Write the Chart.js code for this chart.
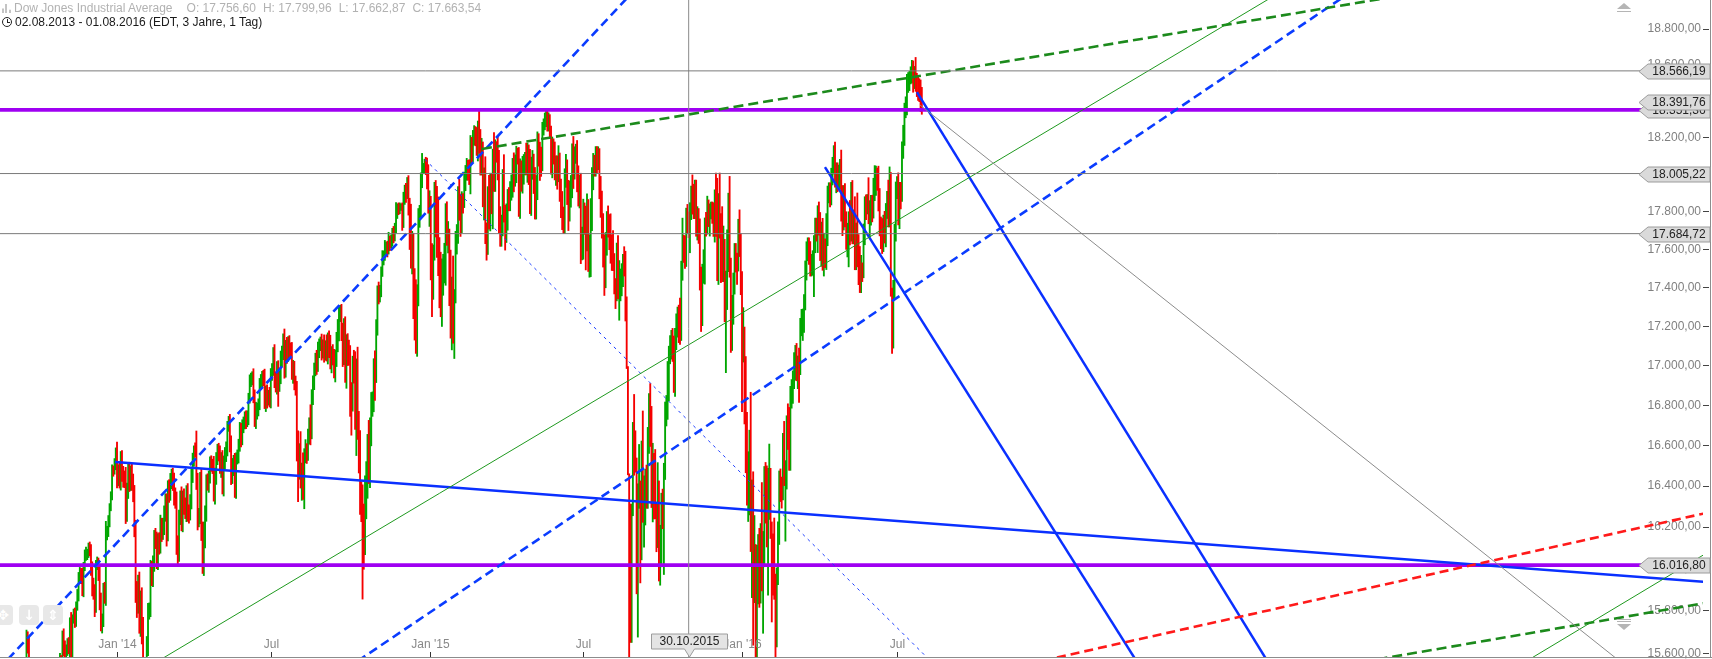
<!DOCTYPE html>
<html>
<head>
<meta charset="utf-8">
<script src="https://cdn.jsdelivr.net/npm/chart.js@4.4.1/dist/chart.umd.min.js"></script>
<style>
  body { margin: 0; background: #fff; overflow: hidden; }
  #wrap { position: relative; width: 1712px; height: 659px; }
  .hdr { position: absolute; left: 0; font: 12px "Liberation Sans", Arial, sans-serif; white-space: nowrap; line-height: 14px; }
  .hdr span.t { margin-left: 7px; }
  .ico-bars { position: absolute; left: 2px; top: 3px; width: 9px; height: 9px;
    background: linear-gradient(to right, #c4c4c4 0 2px, transparent 2px 3px, #c4c4c4 3px 5px, transparent 5px 7px, #c4c4c4 7px 9px);
    clip-path: polygon(0 50%, 22% 50%, 22% 0, 56% 0, 56% 30%, 78% 30%, 78% 65%, 100% 65%, 100% 100%, 0 100%); }
  .ico-clock { position: absolute; left: 2px; top: 2px; width: 8px; height: 8px; border: 1.4px solid #222; border-radius: 50%; }
  .ico-clock:after { content: ""; position: absolute; left: 3.5px; top: 1px; width: 2px; height: 3px; border-left: 1.3px solid #222; border-bottom: 1.3px solid #222; }
  .nav { position: absolute; top: 605px; width: 20px; height: 20px; border-radius: 4px; background: #e8e8e8; color: #fff;
    font: bold 14px "DejaVu Sans", sans-serif; text-align: center; line-height: 20px; }
  .tri-up { position: absolute; left: 1617px; top: 3px; width: 0; height: 0; border-left: 7px solid transparent; border-right: 7px solid transparent; border-bottom: 6px solid #b5b5b5; }
  .tri-dn { position: absolute; left: 1617px; top: 624px; width: 0; height: 0; border-left: 7px solid transparent; border-right: 7px solid transparent; border-top: 6px solid #b5b5b5; }
  .bar-ln { position: absolute; left: 1617px; width: 14px; height: 1px; background: #b5b5b5; }
</style>
</head>
<body>
<div id="wrap">
  <canvas id="chart" width="1712" height="659"></canvas>
  <div class="hdr" style="top:1px;color:#b2b2b2">
    <span class="ico-bars"></span>
    <span style="margin-left:14px">Dow Jones Industrial Average</span><span class="t" style="margin-left:14px">O: 17.756,60</span><span class="t">H: 17.799,96</span><span class="t">L: 17.662,87</span><span class="t">C: 17.663,54</span>
  </div>
  <div class="hdr" style="top:15px;color:#1a1a1a">
    <span class="ico-clock"></span>
    <span style="margin-left:15px">02.08.2013 - 01.08.2016 (EDT, 3 Jahre, 1 Tag)</span>
  </div>
  <div class="nav" style="left:-7px">&#x2725;</div>
  <div class="nav" style="left:19px">&#x2193;</div>
  <div class="nav" style="left:43px">&#x21D5;</div>
  <div class="tri-up"></div><div class="bar-ln" style="top:11px"></div>
  <div class="bar-ln" style="top:619px"></div><div class="bar-ln" style="top:621px"></div><div class="tri-dn"></div>
</div>
<script>
// daily closes, one row per month, 02.08.2013 .. 01.08.2016 (index = trading day)
const firstOpen = 15628;
const closes = [
  15658,15612,15518,15470,15498,15425,15419,15451,15337,15112,15081,15010,15002,14897,14963,15010,14946,14776,14825,14840,14810,
  14834,14930,14938,14922,15063,15191,15326,15300,15376,15494,15529,15676,15636,15451,15401,15334,15273,15328,15258,15130,
  15191,15133,14997,15073,14936,14776,14803,15127,15237,15301,15168,15374,15372,15399,15392,15467,15413,15509,15570,15568,15680,15618,15546,
  15615,15639,15618,15747,15594,15761,15783,15751,15822,15876,15962,15976,15968,15901,16010,16065,16073,16073,16098,16086,
  16008,15915,15889,15822,16020,16026,15973,15844,15740,15755,15885,15875,16168,16179,16221,16294,16357,16479,16478,16505,16577,
  16441,16470,16425,16530,16462,16444,16437,16257,16374,16482,16418,16459,16414,16373,16198,15879,15838,15929,15739,15849,15699,
  15373,15445,15441,15629,15795,15802,15995,15964,16027,16154,16131,16040,16133,16104,16208,16180,16198,16273,16322,
  16168,16396,16360,16422,16453,16418,16351,16341,16108,16065,16247,16336,16222,16331,16302,16276,16367,16268,16264,16323,16457,
  16532,16573,16572,16413,16246,16256,16437,16170,16027,16174,16263,16425,16409,16449,16514,16502,16501,16361,16448,16535,16581,
  16558,16512,16530,16401,16518,16550,16583,16695,16715,16613,16447,16491,16511,16374,16533,16543,16606,16675,16633,16698,16717,
  16743,16723,16738,16836,16924,16943,16945,16843,16734,16776,16782,16808,16906,16921,16947,16938,16819,16868,16846,16851,16827,
  16956,16976,17068,16924,16907,16986,16915,16944,17055,17061,17138,16977,17100,17052,17114,17087,17084,16961,16983,16913,16881,16563,
  16493,16569,16430,16443,16369,16554,16569,16561,16652,16713,16663,16839,16919,16979,17039,17001,17076,17107,17122,17079,17098,
  17068,17078,17069,17138,17111,17014,17068,17049,16988,17031,17131,17157,17266,17280,17173,17056,17211,16946,17114,17071,17043,
  16805,16801,17009,16992,16720,16995,16660,16544,16321,16316,16142,16117,16380,16400,16615,16462,16678,16805,16818,17006,16975,17196,17391,
  17367,17384,17485,17555,17574,17614,17615,17612,17652,17635,17648,17688,17686,17720,17810,17818,17815,17828,17828,
  17777,17880,17913,17901,17959,17853,17801,17533,17597,17281,17181,17068,17357,17778,17805,17959,18024,18030,18053,18039,17983,17823,
  17833,17502,17371,17585,17908,17737,17640,17614,17427,17321,17512,17516,17554,17814,17673,17679,17388,17191,17417,17165,
  17362,17667,17673,17885,17825,17730,17868,17863,17973,18019,18047,18030,17986,18141,18117,18209,18225,18215,18133,
  18289,18204,18097,18136,17857,17996,17662,17635,17895,17749,17977,17850,18077,17959,18128,18116,18011,17718,17678,17713,17977,17776,
  17698,17763,17880,17876,17902,17958,18057,17977,18036,18113,18106,17826,18034,17950,18038,18058,18080,18038,18110,18036,17841,
  18024,18070,17928,17842,17925,18191,18105,18068,18060,18253,18272,18299,18312,18285,18285,18232,18042,18163,18126,18011,
  18041,18011,18076,17906,17849,17766,17765,18001,18039,17899,17791,17905,17935,18116,18015,18120,18144,17967,17891,17947,17597,17620,
  17758,17731,17684,17776,17516,17549,17761,17978,18054,18051,18121,18086,18100,17920,17851,17731,17569,17441,17631,17752,17746,17690,
  17599,17551,17540,17419,17373,17615,17403,17403,17409,17477,17546,17512,17349,16991,16460,15871,15666,16285,16655,16643,16528,
  15916,16351,16375,16102,16492,16253,16330,16433,16371,16600,16740,16675,16385,16511,16330,16280,16201,16315,16001,16049,16285,
  16272,16472,16777,16790,16912,17050,17084,17131,17082,16925,17142,17216,17231,17218,17169,17490,17647,17623,17582,17780,17756,17664,
  17829,17918,17868,17864,17910,17731,17758,17703,17449,17245,17484,17490,17738,17732,17824,17792,17813,17813,17799,17720,
  17888,17730,17478,17848,17731,17568,17493,17575,17265,17368,17525,17750,17496,17128,17252,17418,17603,17553,17528,17721,17604,17425,
  17149,17158,16907,16515,16347,16399,16516,16152,16380,15988,16016,15766,15882,16094,15886,16167,15944,16069,16466,
  16449,16154,16337,16417,16205,16027,16014,15914,15660,15974,16196,16454,16414,16392,16620,16432,16485,16698,16640,16517,
  16866,16900,16944,17007,17074,16964,17000,16995,17213,17229,17251,17326,17481,17602,17623,17583,17502,17516,17535,17634,17717,17685,
  17793,17737,17603,17716,17542,17577,17556,17721,17908,17926,17897,18004,18053,18096,17982,18003,17978,17991,18042,17831,17774,
  17891,17751,17652,17660,17741,17705,17928,17711,17721,17535,17711,17530,17527,17436,17501,17493,17706,17851,17829,17873,17787,
  17790,17839,17807,17920,17938,18005,17985,17865,17733,17675,17640,17733,17675,17805,17830,17780,18011,17400,17140,17410,17695,17930,
  17949,17841,17918,17896,18147,18227,18348,18373,18507,18517,18534,18559,18595,18518,18571,18493,18474,18473,18456,18432,
  18404
];
// how far each day's high reaches above max(open, close)
const highPad = [
  30,25,40,20,35,25,20,30,15,20,35,25,40,30,45,30,25,30,40,35,25,
  20,40,30,25,20,15,30,35,20,25,30,33,25,40,30,25,35,20,40,30,
  30,45,25,20,35,40,60,15,30,25,35,20,30,25,35,20,30,25,30,20,25,35,40,
  25,30,35,20,45,20,25,30,20,25,20,30,25,35,20,25,30,20,25,30,
  30,25,40,35,20,30,25,35,40,30,45,50,60,25,35,20,15,25,20,30,11,
  40,35,50,40,45,35,30,55,40,30,35,40,50,45,30,35,60,40,55,45,60,
  70,60,80,50,40,35,45,40,35,30,40,45,35,40,50,35,45,30,40,
  40,30,35,40,30,35,45,40,30,50,35,40,60,45,55,40,35,45,40,35,30,
  30,25,40,100,50,35,30,45,55,50,40,30,35,25,30,35,30,45,40,30,25,
  30,40,35,45,30,40,35,25,30,40,35,45,40,50,30,35,25,40,35,30,25,
  25,30,35,25,30,20,25,40,35,40,30,25,30,35,25,30,45,30,35,25,40,
  30,35,25,40,45,35,40,30,20,40,25,50,30,45,35,40,30,35,45,40,35,40,
  110,40,100,70,120,30,60,40,30,25,90,40,30,35,25,40,45,30,25,40,35,
  60,50,80,30,40,45,30,40,35,50,40,80,40,30,35,45,30,40,45,50,60,
  60,110,40,70,80,40,100,110,130,100,90,170,70,120,40,110,60,60,50,30,70,40,20,
  40,30,25,40,20,35,25,30,40,20,30,25,35,20,40,25,30,20,15,
  20,25,30,40,25,35,20,40,100,90,220,262,60,40,30,50,90,30,30,40,50,70,
  80,50,130,40,50,60,200,240,50,160,40,60,80,30,40,70,30,210,40,150,
  30,30,60,50,90,70,40,30,40,30,40,30,50,70,60,30,40,35,40,
  1,60,40,60,40,40,100,80,40,100,30,30,60,150,60,50,90,120,110,70,50,130,
  60,80,40,50,60,40,30,60,70,40,30,40,50,40,60,50,40,90,60,50,100,
  70,60,40,110,70,40,30,70,80,30,30,35,39,40,50,40,30,40,30,50,
  60,60,80,40,70,60,60,30,70,40,70,60,60,50,90,30,20,40,80,50,60,100,
  110,90,100,120,90,130,110,60,60,50,30,30,50,40,70,60,60,110,60,50,80,40,
  100,80,150,40,30,20,60,140,90,50,30,70,80,5,5,0,441,27,60,200,30,
  10,60,230,50,130,280,120,50,70,90,120,170,120,100,50,250,40,200,110,160,80,
  100,40,40,60,110,50,70,50,60,70,50,50,70,80,130,50,120,30,50,40,60,44,
  20,20,80,80,60,60,70,60,60,60,40,110,30,60,60,40,30,40,40,50,
  30,120,250,50,160,60,260,150,80,120,180,150,240,60,110,60,30,30,30,40,90,80,
  60,140,40,140,250,170,160,350,50,90,240,100,230,70,100,50,250,110,30,
  50,50,150,190,70,20,140,230,60,30,30,20,30,30,40,100,40,50,110,150,
  30,30,30,60,30,40,50,90,30,60,40,40,60,40,40,40,60,60,60,40,50,50,
  40,60,60,30,50,110,80,70,30,30,30,30,40,60,80,60,60,60,40,90,110,
  50,60,50,80,60,120,30,40,90,160,30,190,150,90,70,30,30,30,40,20,110,
  70,50,50,60,110,40,30,60,60,40,90,50,70,40,80,140,30,0,0,30,40,30,
  40,60,40,40,30,40,40,50,40,40,30,30,30,27,20,70,60,60,50,60,
  43
];
// how far each day's low reaches below min(open, close)
const lowPad = [
  25,30,20,35,25,30,25,20,30,25,30,20,25,35,20,30,25,20,30,25,30,
  40,20,25,30,15,20,25,30,25,20,30,25,35,20,25,30,20,35,25,40,
  25,50,40,30,45,50,60,30,20,35,25,40,30,20,35,25,45,20,35,30,25,30,25,
  30,25,20,35,25,40,20,30,25,20,30,25,40,30,35,20,25,30,20,25,
  40,45,35,50,30,25,30,40,35,45,30,40,50,30,25,20,15,25,30,20,25,
  50,40,35,45,40,50,45,40,30,35,45,40,35,50,45,40,70,50,45,60,55,
  17,60,101,50,40,35,30,45,50,40,35,40,45,35,30,50,40,35,45,
  60,35,40,30,35,40,45,50,40,45,30,35,40,45,40,35,50,40,45,30,35,
  40,35,30,30,60,45,40,35,50,60,75,35,30,40,35,30,40,35,50,40,30,
  35,50,70,40,50,35,30,35,25,45,40,35,40,30,35,25,30,35,40,30,35,
  35,40,30,35,25,30,40,30,40,50,45,35,30,25,30,40,35,50,60,45,35,
  40,30,25,35,40,50,120,45,35,60,30,40,35,40,30,45,40,30,50,35,30,40,
  170,60,40,100,35,80,40,50,35,45,60,30,35,40,30,45,30,35,30,50,40,
  50,40,45,60,70,30,50,45,50,70,35,60,30,40,45,60,50,30,60,70,40,
  60,150,30,80,40,170,30,80,60,90,287,120,50,140,60,50,70,80,60,50,150,60,40,
  50,40,30,25,35,30,40,50,35,40,25,30,50,40,30,45,30,25,20,
  75,60,40,50,30,70,200,30,60,40,50,5,20,50,60,40,30,20,20,40,60,30,
  100,60,120,30,40,70,80,150,130,70,120,150,90,140,50,90,80,50,110,50,
  128,40,90,40,70,60,40,70,40,60,50,60,40,90,60,50,50,60,30,
  60,90,100,100,30,100,30,90,60,40,50,60,140,50,50,50,40,30,60,60,40,30,
  100,60,60,70,70,40,80,70,40,80,50,50,60,40,50,90,60,40,80,90,50,
  60,50,30,80,80,60,60,100,70,40,40,30,40,50,50,30,40,60,70,40,
  70,90,50,50,80,60,80,80,70,60,90,40,80,60,90,40,60,60,60,70,70,50,
  70,50,190,90,30,60,90,60,60,60,60,80,60,50,80,70,60,80,40,60,80,90,
  70,60,50,50,80,40,60,170,70,50,70,50,120,5,5,501,15,15,30,190,60,
  36,240,60,170,60,30,150,120,80,80,40,80,90,160,90,40,120,100,60,80,40,
  80,300,40,80,60,90,40,50,60,60,80,60,70,100,60,40,50,90,80,70,70,1,
  80,70,80,100,100,60,80,70,60,70,40,60,70,60,50,70,120,50,60,50,
  80,60,40,60,70,140,60,60,40,300,80,40,40,60,50,40,50,70,110,40,40,60,
  380,130,200,50,40,120,140,70,290,350,150,316,210,50,70,50,50,250,60,
  230,50,280,100,60,280,140,60,157,30,50,80,90,100,60,30,300,100,60,40,
  40,80,90,60,80,40,80,180,40,60,100,80,40,40,60,60,40,40,50,180,50,40,
  100,60,60,90,50,80,50,60,100,60,70,60,60,50,50,80,70,60,70,80,100,
  70,30,50,90,150,80,60,80,80,40,40,20,110,60,60,60,40,80,70,40,50,
  120,60,60,40,60,50,70,60,60,70,60,50,40,60,40,60,60,43,77,50,60,50,
  60,110,130,80,40,60,70,40,50,60,60,40,60,70,50,40,50,70,60,90,
  77
];

const xTickIdx = [105, 229, 357, 481, 609, 734];
const xTickLabels = ["Jan '14", 'Jul', "Jan '15", 'Jul', "Jan '16", 'Jul'];
const yTicks = [15600,15800,16000,16200,16400,16600,16800,17000,17200,17400,17600,17800,18000,18200,18400,18600,18800];

// drawn lines: [trading-day index, price] end points
const blueDash1 = [[-13.8, 15384], [529.9, 19077]];
const blueDash2 = [[252.4, 15384], [1114.3, 19077]];
const greenThin1 = [[85.4, 15384], [1059.4, 19077]];
const greenThin2 = [[1189.3, 15384], [1592.5, 16827]];
const greenDash1 = [[399.3, 18138], [1215.4, 19077]];
const greenDash2 = [[930.7, 15384], [1462.1, 15914]];
const redDash = [[708.7, 15384], [1462.1, 16370]];
const blueFlat = [[103.4, 16518], [1462.1, 15903]];
const blueSteep1 = [[675.9, 18040], [946.9, 15384]];
const blueSteep2 = [[750.1, 18449], [1052.0, 15384]];
const blueDotted = [[353.4, 18081], [792.8, 15384]];
const grayDiag = [[752.5, 18378], [1356.2, 15384]];
const grayLevels = [18566.19, 18005.22, 17684.72];
const purpleLevels = [18351.36, 16016.80];
const tagValues = [18566.19, 18351.36, 18391.76, 18005.22, 17684.72, 16016.80];
const cursorIdx = 566;
const cursorLabel = '30.10.2015';

const FONT = '"Liberation Sans", Arial, sans-serif';
Chart.defaults.font.family = FONT;

function fmt(v) {
  let [i, d] = v.toFixed(2).split('.');
  return i.replace(/\B(?=(\d{3})+(?!\d))/g, '.') + ',' + d;
}

// OHLC bars as floating bars [low, high], split into up and down days
const upBars = [];
const downBars = [];
let prev = firstOpen;
closes.forEach(function (c, i) {
  const open = prev;
  const bar = { x: i, y: [Math.min(open, c) - lowPad[i], Math.max(open, c) + highPad[i]] };
  if (c >= open) upBars.push(bar); else downBars.push(bar);
  prev = c;
});

function seg(pts, color, width, dash) {
  return {
    type: 'line', order: 1,
    data: pts.map(function (p) { return { x: p[0], y: p[1] }; }),
    borderColor: color, borderWidth: width, borderDash: dash || [],
    pointRadius: 0, fill: false, tension: 0
  };
}

const datasets = [];
grayLevels.forEach(function (v) { datasets.push(seg([[-50, v], [1500, v]], '#7a7a7a', 1)); });
datasets.push(seg([[cursorIdx, 15000], [cursorIdx, 20000]], '#8a8a8a', 1));
datasets.push(seg(grayDiag, '#8c8c8c', 1));
datasets.push(seg(greenThin1, '#1f991f', 1));
datasets.push(seg(greenThin2, '#1f991f', 1));
datasets.push(seg(blueDotted, '#1a3cff', 1, [3, 4]));
datasets.push(seg(greenDash1, '#1c8a1c', 2.6, [10, 5]));
datasets.push(seg(greenDash2, '#1c8a1c', 2.6, [10, 5]));
datasets.push(seg(redDash, '#ff1a1a', 2.6, [9, 5]));
datasets.push(seg(blueDash1, '#0a3cff', 2.6, [9, 5]));
datasets.push(seg(blueDash2, '#0a3cff', 2.6, [9, 5]));
datasets.push(seg(blueFlat, '#0a30ff', 2.5));
datasets.push(seg(blueSteep1, '#0a30ff', 2.5));
datasets.push(seg(blueSteep2, '#0a30ff', 2.5));
purpleLevels.forEach(function (v) { datasets.push(seg([[-50, v], [1500, v]], '#9f00f2', 3.6)); });
datasets.push({
  type: 'bar', order: 9, data: downBars,
  backgroundColor: '#f50000', borderWidth: 0, barThickness: 1.2, grouped: false
});
datasets.push({
  type: 'bar', order: 10, data: upBars,
  backgroundColor: '#00a600', borderWidth: 0, barThickness: 1.2, grouped: false
});

function tag(ctx, right, y, text) {
  const left = right - 62, tip = right - 71;
  ctx.beginPath();
  ctx.moveTo(tip, y);
  ctx.lineTo(left, y - 7.5);
  ctx.lineTo(right, y - 7.5);
  ctx.lineTo(right, y + 7.5);
  ctx.lineTo(left, y + 7.5);
  ctx.closePath();
  ctx.fillStyle = '#dadada';
  ctx.fill();
  ctx.strokeStyle = '#9c9c9c';
  ctx.lineWidth = 1;
  ctx.stroke();
  ctx.fillStyle = '#222';
  ctx.textAlign = 'center';
  ctx.textBaseline = 'middle';
  ctx.fillText(text, left + 31, y + 0.5);
}

const overlay = {
  id: 'overlay',
  afterDraw(chart) {
    const ctx = chart.ctx, ca = chart.chartArea, xs = chart.scales.x, ys = chart.scales.y;
    ctx.save();
    ctx.strokeStyle = '#8c8c8c';
    ctx.lineWidth = 1;
    ctx.beginPath();
    ctx.moveTo(0, ca.bottom + 0.5); ctx.lineTo(chart.width, ca.bottom + 0.5);
    ctx.moveTo(chart.width - 1.5, 0); ctx.lineTo(chart.width - 1.5, ca.bottom + 1);
    ctx.stroke();

    ctx.font = '12px ' + FONT;
    ctx.textAlign = 'center';
    ctx.textBaseline = 'middle';
    xTickIdx.forEach(function (v, i) {
      const px = Math.round(xs.getPixelForValue(v)) + 0.5;
      ctx.fillStyle = '#888';
      ctx.fillText(xTickLabels[i], px, ca.bottom - 12);
      ctx.strokeStyle = '#333';
      ctx.beginPath(); ctx.moveTo(px, ca.bottom - 5); ctx.lineTo(px, ca.bottom); ctx.stroke();
    });

    tagValues.forEach(function (v) { tag(ctx, chart.width - 2, Math.round(ys.getPixelForValue(v)) + 0.5, fmt(v)); });

    const cx = Math.round(xs.getPixelForValue(cursorIdx)) + 0.5;
    const top = ca.bottom - 23, bot = ca.bottom - 8;
    ctx.beginPath();
    ctx.moveTo(cx - 38, top); ctx.lineTo(cx + 38, top); ctx.lineTo(cx + 38, bot);
    ctx.lineTo(cx + 5, bot); ctx.lineTo(cx, ca.bottom); ctx.lineTo(cx - 5, bot);
    ctx.lineTo(cx - 38, bot); ctx.closePath();
    ctx.fillStyle = '#e4e4e4'; ctx.fill();
    ctx.strokeStyle = '#9c9c9c'; ctx.stroke();
    ctx.fillStyle = '#222';
    ctx.fillText(cursorLabel, cx, (top + bot) / 2 + 0.5);
    ctx.restore();
  }
};

new Chart(document.getElementById('chart'), {
  type: 'line',
  data: { datasets: datasets },
  options: {
    responsive: false,
    animation: false,
    events: [],
    layout: { padding: 0 },
    plugins: { legend: { display: false }, tooltip: { enabled: false } },
    scales: {
      x: {
        type: 'linear', min: 10.64, max: 1383.95, bounds: 'data', offset: false,
        ticks: { display: false },
        grid: { display: false },
        border: { display: false },
        afterFit: function (s) { s.height = 2; }
      },
      y: {
        type: 'logarithmic', position: 'right', min: 15583.1, max: 18963.7, bounds: 'data',
        afterBuildTicks: function (s) { s.ticks = yTicks.map(function (v) { return { value: v }; }); },
        afterFit: function (s) { s.width = 9; s.paddingTop = 0; s.paddingBottom = 0; },
        ticks: {
          mirror: true, padding: -2, autoSkip: false, color: '#808080',
          font: { size: 12, family: FONT },
          callback: function (v) { return fmt(v); }
        },
        grid: { drawOnChartArea: false, drawTicks: true, tickLength: 6, tickColor: '#444' },
        border: { display: false }
      }
    }
  },
  plugins: [overlay]
});
</script>
</body>
</html>
